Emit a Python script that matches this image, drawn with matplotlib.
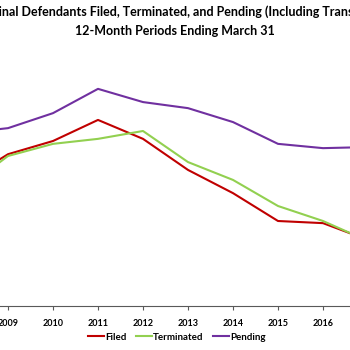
import matplotlib.pyplot as plt

years = [2008, 2009, 2010, 2011, 2012, 2013, 2014, 2015, 2016, 2017]
year_labels = [str(y) for y in years]

filed = [84700, 92500, 96200, 102100, 96800, 88100, 81600, 73800, 73200, 68500]
terminated = [82500, 92000, 95400, 96800, 99000, 90300, 85300, 78000, 73800, 68200]
pending = [98400, 99800, 104000, 110800, 107100, 105400, 101500, 95400, 94200, 94500]

plt.rcParams['font.family'] = ['Lato', 'DejaVu Sans']

fig = plt.figure(figsize=(3.5, 3.5), dpi=100)
# plot area wider than the picture, the reference is a crop
ax = fig.add_axes([-59.5 / 350, 44 / 350, 450 / 350, 250 / 350])

ax.plot(years, filed, color="#C00000", lw=1.5, label="Filed")
ax.plot(years, terminated, color="#92D050", lw=1.5, label="Terminated")
ax.plot(years, pending, color="#7030A0", lw=1.5, label="Pending")

ax.set_xlim(2007.5, 2017.5)
ax.set_ylim(50000, 120000)
ax.set_xticks(years)
ax.set_xticklabels(year_labels, fontsize=6.5, fontweight="bold")
ax.set_yticks([])
for s in ["left", "right", "top"]:
    ax.spines[s].set_visible(False)
ax.spines["bottom"].set_color("#595959")
ax.spines["bottom"].set_linewidth(0.8)
ax.tick_params(axis="x", length=3, color="#595959", pad=6)

fig.text(0.5, 1 - 12 / 350,
         "Criminal Defendants Filed, Terminated, and Pending (Including Transfers)",
         ha="center", va="center", fontsize=9, fontweight="bold")
fig.text(0.5, 1 - 31 / 350, "12-Month Periods Ending March 31",
         ha="center", va="center", fontsize=9, fontweight="bold")

fig.legend(loc="center", bbox_to_anchor=(177 / 350, 13 / 350), ncol=3,
           frameon=False, prop={"size": 7, "weight": "bold"},
           handlelength=1.65, handletextpad=0.1, columnspacing=1.0)

fig.savefig("out.png", dpi=100)
